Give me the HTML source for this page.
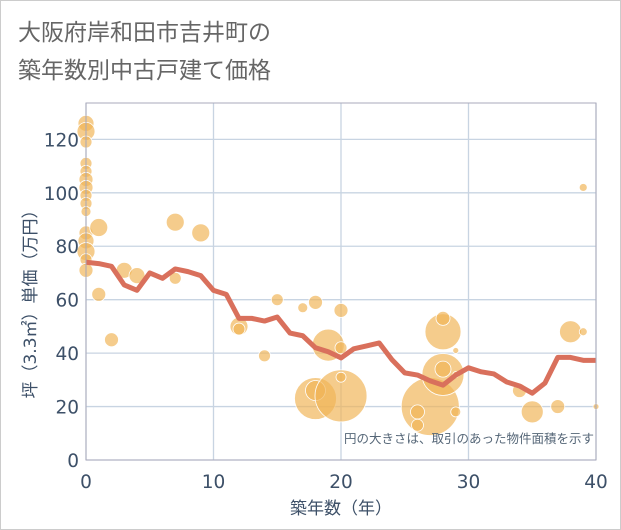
<!DOCTYPE html>
<html><head><meta charset="utf-8"><style>
body{margin:0;background:#fff;}
svg{display:block;font-family:"Liberation Sans","Noto Sans CJK JP",sans-serif;}
.tk{font-family:"DejaVu Sans","Noto Sans CJK JP",sans-serif;}
</style></head><body>
<svg width="621" height="530" viewBox="0 0 621 530">
<rect x="0.5" y="0.5" width="620" height="529" fill="#fff" stroke="#ccc"/>
<text x="18" y="40" font-size="23" fill="#666">大阪府岸和田市吉井町の</text>
<text x="18" y="78" font-size="23" fill="#666">築年数別中古戸建て価格</text>
<g id="grid"></g>
<g id="bubbles"></g>
<polyline id="avgline" fill="none" stroke="#d9705c" stroke-width="5" stroke-linejoin="round"/>
<rect x="86" y="103" width="510" height="357" fill="none" stroke="#aab"/>
<g id="ticks"></g>
<text x="594" y="443" font-size="12.5" fill="#556677" text-anchor="end">円の大きさは、取引のあった物件面積を示す</text>
<text x="341" y="514" font-size="17" fill="#3d5068" text-anchor="middle" class="tk">築年数（年）</text>
<text transform="translate(36,300) rotate(-90)" font-size="17" fill="#3d5068" text-anchor="middle" class="tk">坪（3.3㎡）単価（万円）</text>
</svg>
<script>
const xTicks=[0,10,20,30,40];
const yTicks=[0,20,40,60,80,100,120];
const lineYears=[0,1,2,3,4,5,6,7,8,9,10,11,12,13,14,15,16,17,18,19,20,21,22,23,24,25,26,27,28,29,30,31,32,33,34,35,36,37,38,39,40];
const lineValues=[74,73.5,72.5,65.5,63.5,70,68,71.5,70.5,69,63.5,62,53,53,52,53.5,47.5,46.5,42,40.5,38.2,41.6,42.7,43.8,37.5,32.6,31.8,29.6,28,31.8,34.5,33,32.2,29.2,27.7,25,28.8,38.4,38.4,37.3,37.3];
const bubbleYears=[0,0,0,0,0,0,0,0,0,0,0,0,0,0,0,1,1,2,3,4,7,7,9,12,12,14,15,17,18,19,18,18,20,20,20,20,27,28,28,28,28,26,26,29,29,29,34,35,37,38,39,39,40];
const bubbleValues=[126,123,119,111,108,105,102,99,96,93,85,82,78,75,71,87,62,45,71,69,89,68,85,50,49,39,60,57,59,43,23,26,42,24,31,56,20,48,32,53,34,18,13,18,41,32,26,18,20,48,48,102,20];
const bubbleSizes=[8,9,6,6,6,7,7,6,6,5,7,8,9,6,7,9,7,7,8,8,9,6,9,9,6,6,6,5,7,16,21,10,6,26,5,7,29,18,21,7,8,7,6,5,3,3,7,11,7,11,4,4,3];
const X=v=>86+v*12.75, Y=v=>460-v*2.672;
const NS='http://www.w3.org/2000/svg';
const grid=document.getElementById('grid'),ticks=document.getElementById('ticks'),bub=document.getElementById('bubbles');
function mk(tag,attrs,parent){const e=document.createElementNS(NS,tag);for(const k in attrs)e.setAttribute(k,attrs[k]);parent.appendChild(e);return e;}
yTicks.forEach(v=>{
  const l=mk('line',{x1:86,x2:596,y1:Y(v),y2:Y(v),stroke:'#c8d4e2','stroke-width':1.3},grid);
  
  
  const t=mk('text',{x:79,y:Y(v)+7,'font-size':18.5,fill:'#3d5068','text-anchor':'end','class':'tk'},ticks);
  t.textContent=v;
  
  
});
xTicks.forEach(v=>{
  const l=mk('line',{x1:X(v),x2:X(v),y1:103,y2:460,stroke:'#c8d4e2','stroke-width':1.3},grid);
  
  
  const t=mk('text',{x:X(v),y:488,'font-size':18.5,fill:'#3d5068','text-anchor':'middle','class':'tk'},ticks);
  t.textContent=v;
  
  
});
bubbleYears.forEach((yr,i)=>{
  const c=mk('circle',{cx:X(yr),cy:Y(bubbleValues[i]),r:bubbleSizes[i],fill:'#f0b456','fill-opacity':0.68,stroke:'#fff','stroke-width':0.8},bub);
  
  
});
document.getElementById('avgline').setAttribute('points',lineYears.map((yr,i)=>X(yr)+','+Y(lineValues[i])).join(' '));
</script>
</body></html>
